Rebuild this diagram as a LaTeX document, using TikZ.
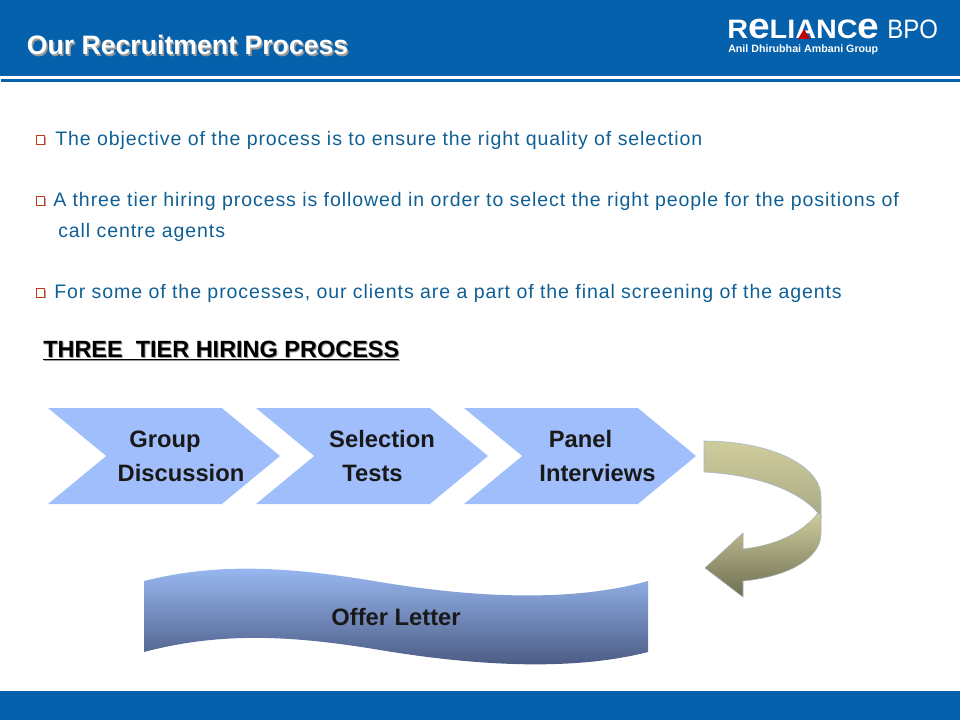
\documentclass[tikz,border=0pt]{standalone}
\usepackage{fontspec}
\setmainfont{Liberation Sans}
\newfontfamily\spacedfont[LetterSpace=4.7]{Liberation Sans}
\usetikzlibrary{positioning,shapes.symbols,shadows}
\definecolor{HeadBlue}{HTML}{0561AB}
\definecolor{BodyBlue}{HTML}{0F5F95}
\definecolor{ChevBlue}{HTML}{A0BEFB}
\definecolor{BulletRed}{HTML}{C8391A}
\definecolor{OliveLight}{HTML}{CFCC9C}
\definecolor{OliveMid}{HTML}{A9A985}
\definecolor{OliveDark}{HTML}{6E6E52}
\definecolor{WaveTop}{HTML}{9DBDF8}
\definecolor{WaveBot}{HTML}{46557C}
\definecolor{ShadeGrey}{HTML}{9A9A9A}

\begin{document}
\begin{tikzpicture}[
  x=0.75pt, y=-0.75pt,
  titletext/.style={anchor=base west, inner sep=0pt, font=\fontsize{20}{22}\selectfont\bfseries},
  bodytext/.style={anchor=base west, inner sep=0pt, text=BodyBlue, font=\fontsize{14.65}{17}\spacedfont},
  bulletbox/.style={draw=BulletRed, fill=white, line width=0.7pt, minimum size=6.2pt, inner sep=0pt,
    drop shadow={shadow xshift=0.7pt, shadow yshift=-0.7pt, fill=ShadeGrey, opacity=0.8}},
  chevron/.style={signal, signal to=east, signal from=west, signal pointer angle=79, fill=ChevBlue,
    minimum width=174pt, minimum height=72pt, inner sep=0pt, outer sep=0pt},
  steptext/.style={anchor=base, inner sep=0pt, font=\fontsize{17.8}{20}\selectfont\bfseries, text=black!90},
  headtext/.style={anchor=base west, inner sep=0pt, font=\fontsize{17.6}{20}\selectfont\bfseries}
]
  \useasboundingbox (0,0) rectangle (960,720);

  % header and footer bands
  \fill[HeadBlue] (0,0) rectangle (960,76);
  \fill[HeadBlue] (1,79) rectangle (960,82);
  \fill[HeadBlue] (0,691) rectangle (960,720);

  \node[titletext, text=ShadeGrey] (titleshadow) at (28,56.5) {Our Recruitment Process};
  \node[titletext, text=white] (title) at (26.5,55) {Our Recruitment Process};

  % logo
  \node[anchor=base west, inner sep=0pt, text=white, font=\fontsize{20}{24}\selectfont\bfseries] (logo) at (727,39)
    {\scalebox{1.08}[1]{R{\fontsize{27}{24}\selectfont e}LIANC{\fontsize{27}{24}\selectfont e}}};
  \node[anchor=base west, inner sep=0pt, text=white, font=\fontsize{20}{24}\selectfont] (bpo) at (887,39) {\scalebox{0.9}[1]{BPO}};
  \node[anchor=base west, inner sep=0pt, text=white, font=\fontsize{8}{10}\selectfont\bfseries] (logotag) at (728,53) {Anil Dhirubhai Ambani Group};
  \fill[red!75!black] (798,39) -- (804,29) -- (810,39) -- cycle;

  % bullet text
  \node[bulletbox] (bulleta) at (40.5,140) {};
  \node[bodytext] (linea) at (55,146) {The objective of the process is to ensure the right quality of selection};
  \node[bulletbox] (bulletb) at (40.5,201) {};
  \node[bodytext] (lineb) at (53,207) {A three tier hiring process is followed in order to select the right people for the positions of};
  \node[bodytext] (linec) at (58,238) {call centre agents};
  \node[bulletbox] (bulletd) at (40.5,293) {};
  \node[bodytext] (lined) at (54,299) {For some of the processes, our clients are a part of the final screening of the agents};

  \node[headtext, text=ShadeGrey] (headshadow) at (44,358) {\underline{THREE\ \ TIER HIRING PROCESS}};
  \node[headtext, text=black] (head) at (43,357) {\underline{THREE\ \ TIER HIRING PROCESS}};

  % chevrons
  \node[chevron] (discussion) at (164,456) {};
  \node[chevron] (selection) at (372,456) {};
  \node[chevron] (panel) at (580,456) {};

  \node[steptext] (groupa) at (165,447) {Group};
  \node[steptext] (groupb) at (181,481.5) {Discussion};
  \node[steptext] (sela) at (382,447) {Selection};
  \node[steptext] (selb) at (372.5,481.5) {Tests};
  \node[steptext] (pana) at (580.5,447) {Panel};
  \node[steptext] (panb) at (597.5,481.5) {Interviews};

  % curved arrow
  \path[top color=OliveLight, bottom color=OliveMid, draw=ChevBlue!70!OliveMid, line width=0.4pt]
    (704,441) .. controls (770,441) and (821,465) .. (821,497) -- (821,518) -- (818,513)
    .. controls (800,492) and (760,475) .. (704,472) -- cycle;
  \path[top color=OliveLight, bottom color=OliveDark, draw=ChevBlue!40!OliveMid, line width=0.4pt]
    (818,513) .. controls (805,530) and (780,545) .. (743,549) -- (743,533) -- (705,568)
    -- (743,597) -- (743,581) .. controls (785,577) and (821,560) .. (821,533) -- (821,515) -- cycle;

  % offer letter wave
  \path[top color=WaveTop, bottom color=WaveBot]
    (144,581) .. controls (220,562) and (290,567) .. (380,582)
    .. controls (470,597) and (570,603) .. (648,581)
    -- (648,652) .. controls (570,672) and (470,665) .. (380,650)
    .. controls (290,635) and (220,632) .. (144,652) -- cycle;
  \node[steptext] (offer) at (396,625) {Offer Letter};
\end{tikzpicture}
\end{document}
